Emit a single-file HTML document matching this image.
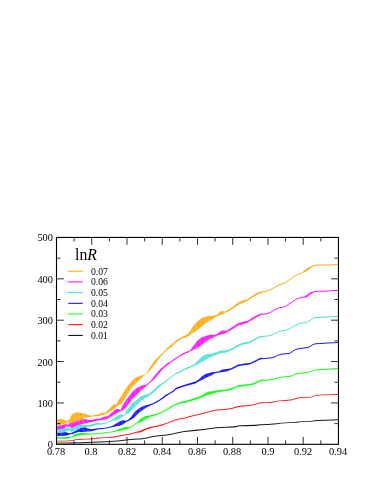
<!DOCTYPE html><html><head><meta charset="utf-8"><style>
html,body{margin:0;padding:0;background:#fff}
#c{position:relative;width:387px;height:501px;overflow:hidden;background:#fff;font-family:"Liberation Serif",serif;color:#000}
.t{position:absolute;will-change:transform;font-size:10.4px;line-height:10px;height:10px;white-space:nowrap}
.y{text-align:right;width:40px}
.x{text-align:center;width:40px}
</style></head><body><div id="c">
<svg width="387" height="501" viewBox="0 0 387 501" style="position:absolute;left:0;top:0">
<g fill-opacity="0.9">
<polygon fill="#000000" points="56.5,442.70 56.6,442.70 70.5,442.57 80.8,442.32 105.4,441.27 117.8,440.51 130.2,439.10 137.7,438.61 140.3,438.47 145.5,437.82 151.9,436.27 158.4,435.37 164.8,434.72 171.3,433.69 177.8,432.14 184.2,431.10 195.3,429.87 205.7,428.63 216.0,427.19 226.3,426.71 234.6,426.30 239.8,425.26 247.0,425.06 255.3,424.85 260.5,424.23 267.9,424.04 276.8,423.37 281.2,422.70 290.1,422.26 296.8,421.81 301.2,421.15 310.1,420.93 316.8,420.04 325.7,419.81 338.4,419.37 338.4,420.22 325.7,420.66 316.8,420.89 310.1,421.78 301.2,422.00 296.8,422.66 290.1,423.11 281.2,423.55 276.8,424.22 267.9,424.89 260.5,425.33 255.3,425.95 247.0,426.16 239.8,426.37 234.6,427.40 226.3,427.81 216.0,428.29 205.7,429.74 195.3,430.98 184.2,432.10 177.8,433.14 171.3,434.69 164.8,435.72 158.4,436.37 151.9,437.27 145.5,438.82 140.3,439.47 137.7,439.55 130.2,440.03 117.8,441.45 105.4,442.20 80.8,443.17 70.5,443.42 56.6,443.55 56.5,443.55"/>
<polygon fill="#ff0000" points="56.5,440.64 56.6,440.64 65.3,440.69 71.5,440.21 75.7,439.18 80.8,438.79 86.0,438.64 91.2,438.56 99.2,437.56 105.4,437.15 111.6,436.73 117.8,435.82 124.0,434.41 130.2,433.50 136.4,431.77 140.3,430.78 142.9,429.60 146.8,427.89 150.6,426.70 154.5,425.96 158.4,425.31 162.3,424.34 166.1,422.93 170.0,421.52 173.9,419.96 177.8,418.66 181.6,418.00 185.5,417.62 188.8,416.29 195.3,414.80 201.8,413.20 208.2,411.48 212.1,410.42 216.2,409.45 221.3,409.14 226.5,408.70 231.7,408.06 236.8,406.25 242.0,405.47 247.2,405.21 252.3,404.44 256.2,403.53 261.0,402.24 265.7,402.26 272.3,401.81 279.0,400.48 285.7,400.04 292.3,399.37 299.0,397.37 305.7,397.15 311.2,396.70 315.7,394.93 323.4,394.48 330.1,394.26 338.4,394.04 338.4,394.89 330.1,395.11 323.4,395.33 315.7,395.78 311.2,397.55 305.7,398.00 299.0,398.22 292.3,400.22 285.7,400.89 279.0,401.33 272.3,402.66 265.7,403.11 261.0,403.24 256.2,404.53 252.3,405.44 247.2,406.21 242.0,406.47 236.8,407.38 231.7,409.06 226.5,409.70 221.3,410.14 216.2,410.58 212.1,411.42 208.2,412.48 201.8,414.20 195.3,415.80 188.8,417.29 185.5,418.62 181.6,419.00 177.8,419.66 173.9,420.96 170.0,422.52 166.1,423.97 162.3,425.42 158.4,426.41 154.5,427.06 150.6,428.13 146.8,429.55 142.9,431.32 140.3,432.51 136.4,432.82 130.2,434.51 124.0,435.50 117.8,436.75 111.6,437.67 105.4,438.08 99.2,438.50 91.2,439.41 86.0,439.49 80.8,439.69 75.7,440.07 71.5,441.06 65.3,441.54 56.6,441.49 56.5,441.49"/>
<polygon fill="#00ff00" points="56.5,436.91 56.6,436.91 61.2,437.32 65.3,437.11 69.5,436.91 72.1,435.88 73.6,434.50 76.7,433.45 80.8,432.74 85.0,432.97 88.1,433.50 91.2,433.50 99.2,433.04 105.4,432.36 111.6,431.49 116.6,430.19 120.3,428.45 124.0,427.18 127.1,426.96 130.2,427.20 133.9,424.57 137.7,421.40 140.3,419.07 142.9,417.13 146.8,415.86 150.6,415.27 154.5,414.36 158.4,413.07 162.3,411.13 166.1,409.20 170.0,406.87 173.9,404.67 177.8,402.74 181.6,401.71 185.5,400.85 188.8,399.89 195.3,397.77 200.5,396.03 204.3,393.40 208.2,391.84 212.1,391.20 214.9,390.68 218.8,390.09 222.6,389.64 226.5,389.25 230.4,388.61 234.3,386.93 238.1,385.25 242.0,384.86 245.9,384.34 249.8,383.95 253.6,383.05 257.5,381.37 261.0,379.56 265.5,379.80 270.6,379.16 274.5,378.51 278.4,377.22 282.3,376.57 286.1,376.31 290.0,375.93 293.9,374.25 296.5,373.21 298.9,372.90 302.8,372.51 306.6,372.12 309.9,371.61 313.1,369.93 315.7,369.28 320.8,369.02 327.3,368.64 333.8,368.25 338.4,367.99 338.4,368.99 333.8,369.25 327.3,369.64 320.8,370.02 315.7,370.28 313.1,370.93 309.9,372.61 306.6,373.12 302.8,373.51 298.9,373.90 296.5,374.21 293.9,375.25 290.0,376.93 286.1,377.32 282.3,377.57 278.4,378.22 274.5,379.51 270.6,380.16 265.5,380.80 261.0,381.09 257.5,382.90 253.6,384.58 249.8,385.48 245.9,385.87 242.0,386.39 238.1,386.78 234.3,388.46 230.4,390.14 226.5,390.78 222.6,391.31 218.8,391.90 214.9,392.92 212.1,394.29 208.2,395.07 204.3,396.35 200.5,398.04 195.3,399.85 188.8,401.83 185.5,402.75 181.6,403.25 177.8,404.14 173.9,406.07 170.0,408.27 166.1,410.60 162.3,412.53 158.4,414.34 154.5,415.64 150.6,416.80 146.8,418.66 142.9,421.01 140.3,422.56 137.7,422.75 133.9,425.63 130.2,428.05 127.1,429.18 124.0,430.08 120.3,430.80 116.6,431.40 111.6,432.34 105.4,433.21 99.2,433.89 91.2,434.38 88.1,434.69 85.0,434.70 80.8,435.14 76.7,435.98 73.6,436.79 72.1,437.17 69.5,438.21 65.3,438.83 61.2,438.83 56.6,438.52 56.5,438.52"/>
<polygon fill="#0000ff" points="56.5,432.51 56.6,432.51 61.2,432.45 65.3,431.99 68.4,433.08 70.5,433.27 72.6,432.33 75.7,430.80 78.8,428.76 81.9,427.59 85.0,427.29 88.1,428.44 91.2,429.14 98.0,428.13 102.9,428.11 107.9,427.24 112.8,425.63 116.6,423.16 119.7,421.56 122.8,420.37 125.9,420.64 128.3,419.83 131.4,416.48 134.6,412.06 137.6,409.53 140.8,407.26 144.1,405.82 147.3,404.96 150.5,404.08 153.8,402.79 157.0,401.11 160.2,398.91 162.8,397.10 166.1,394.60 170.0,392.40 173.2,390.59 175.9,387.77 182.4,385.59 188.8,383.58 195.3,381.41 198.5,379.46 201.8,376.61 205.0,374.35 208.9,372.93 212.1,372.33 214.9,371.98 218.8,371.27 222.6,369.58 226.5,369.05 230.4,368.45 234.3,366.50 238.1,364.56 242.0,363.92 245.9,363.28 249.8,362.90 253.6,361.34 257.5,359.14 261.0,357.59 262.9,358.23 266.8,357.84 270.6,357.45 274.5,356.55 278.4,354.61 282.3,353.58 286.1,353.32 290.0,352.67 293.9,350.09 296.5,348.80 297.6,348.61 300.2,347.96 304.0,347.58 307.9,347.06 310.5,345.77 313.1,344.09 315.7,343.18 320.8,342.92 327.3,342.54 333.8,342.15 338.4,341.89 338.4,342.89 333.8,343.15 327.3,343.54 320.8,343.93 315.7,344.18 313.1,345.09 310.5,346.77 307.9,348.06 304.0,348.58 300.2,348.96 297.6,349.61 296.5,349.80 293.9,351.09 290.0,353.67 286.1,354.32 282.3,354.58 278.4,355.61 274.5,357.55 270.6,358.45 266.8,358.84 262.9,359.23 261.0,359.26 257.5,360.81 253.6,362.75 249.8,364.42 245.9,364.95 242.0,365.59 238.1,366.37 234.3,368.31 230.4,369.98 226.5,371.58 222.6,372.10 218.8,372.61 214.9,373.15 212.1,375.04 208.9,376.41 205.0,378.37 201.8,379.99 198.5,381.55 195.3,383.49 188.8,385.28 182.4,386.99 175.9,389.44 173.2,391.99 170.0,393.80 166.1,396.13 162.8,398.63 160.2,400.44 157.0,402.38 153.8,404.06 150.5,405.48 147.3,407.06 144.1,408.91 140.8,411.20 137.6,413.88 134.6,417.14 131.4,419.42 128.3,421.08 125.9,422.20 122.8,424.47 119.7,425.71 116.6,426.33 112.8,426.97 107.9,428.28 102.9,429.09 98.0,429.42 91.2,431.24 88.1,431.59 85.0,431.64 81.9,431.93 78.8,432.07 75.7,432.84 72.6,433.96 70.5,434.37 68.4,435.00 65.3,435.68 61.2,436.10 56.6,436.01 56.5,436.01"/>
<polygon fill="#40e0d0" points="56.5,429.17 56.6,429.17 61.2,429.17 64.3,428.35 66.4,427.31 68.4,427.10 71.5,428.17 74.6,426.62 77.7,425.30 80.8,424.51 85.0,424.94 88.1,425.00 91.2,424.62 96.7,422.83 100.4,423.30 104.2,422.68 107.9,421.93 111.6,420.00 114.1,417.97 117.2,415.76 120.3,414.41 122.8,414.78 124.6,414.50 126.5,410.34 127.9,408.76 131.1,404.07 134.4,401.58 137.6,399.17 140.8,396.42 144.1,395.07 147.3,394.24 149.9,393.31 153.1,390.18 156.3,387.03 159.6,384.58 162.8,382.77 166.9,379.52 170.8,376.75 175.9,373.05 179.8,371.18 183.7,369.12 187.5,367.32 191.4,365.65 194.7,364.05 197.9,360.53 201.1,357.22 204.3,355.08 208.2,353.93 212.1,353.41 216.2,352.16 221.3,350.51 225.2,350.59 230.4,349.10 234.3,346.77 238.1,344.64 242.0,343.00 245.9,342.09 249.8,341.46 253.6,339.26 257.5,337.20 261.0,335.64 262.9,335.88 266.8,335.49 270.6,334.97 274.5,333.29 278.4,331.35 282.3,330.32 286.1,329.80 290.0,328.12 293.9,325.54 296.5,324.12 297.6,323.80 300.2,322.77 302.8,322.51 306.6,322.12 309.2,320.44 311.8,318.64 314.4,317.34 317.0,316.96 323.4,316.70 331.2,316.31 338.4,316.05 338.4,317.05 331.2,317.31 323.4,317.70 317.0,317.96 314.4,318.34 311.8,319.64 309.2,321.44 306.6,323.12 302.8,323.51 300.2,323.77 297.6,324.80 296.5,325.12 293.9,326.54 290.0,329.12 286.1,330.80 282.3,331.32 278.4,332.35 274.5,334.29 270.6,335.97 266.8,336.49 262.9,336.88 261.0,337.31 257.5,338.72 253.6,340.93 249.8,342.99 245.9,343.90 242.0,344.82 238.1,346.45 234.3,348.58 230.4,350.77 225.2,352.82 221.3,353.32 216.2,354.75 212.1,356.61 208.2,358.28 204.3,360.60 201.1,362.45 197.9,364.05 194.7,365.86 191.4,367.04 187.5,368.79 183.7,370.55 179.8,372.43 175.9,374.24 170.8,377.64 166.9,380.93 162.8,384.14 159.6,386.64 156.3,389.73 153.1,392.66 149.9,395.46 147.3,396.95 144.1,398.74 140.8,401.24 137.6,403.83 134.4,407.43 131.1,410.92 127.9,413.64 126.5,413.84 124.6,415.45 122.8,416.31 120.3,418.40 117.2,419.91 114.1,420.42 111.6,421.24 107.9,422.78 104.2,423.91 100.4,424.67 96.7,424.79 91.2,426.54 88.1,427.11 85.0,427.29 80.8,427.91 77.7,429.06 74.6,430.64 71.5,432.10 68.4,430.93 66.4,431.45 64.3,432.37 61.2,432.82 56.6,432.91 56.5,432.91"/>
<polygon fill="#ff00ff" points="56.5,425.67 56.6,425.67 61.2,425.47 64.3,424.43 66.4,423.63 69.5,423.28 72.6,422.76 75.7,421.45 79.8,420.09 82.4,419.61 85.0,419.10 88.1,420.09 91.2,420.12 96.7,418.69 100.4,418.62 104.2,416.58 106.6,416.58 109.1,414.97 111.6,412.72 114.1,410.49 116.6,409.07 118.4,408.91 120.3,410.32 122.8,405.16 126.0,399.98 129.2,396.12 132.4,391.74 135.7,388.73 138.9,386.81 142.1,385.54 145.4,384.91 147.9,383.40 151.2,380.20 154.4,376.05 157.6,372.00 160.9,368.45 164.1,365.94 166.9,363.62 170.8,361.57 174.6,358.54 178.5,355.96 182.4,353.61 186.3,351.78 190.1,350.17 193.4,345.92 196.6,341.41 199.8,338.57 203.1,336.89 206.9,335.59 212.1,334.62 214.2,334.89 216.8,334.15 220.0,331.45 223.3,330.32 226.5,330.94 230.4,328.35 234.3,325.69 238.1,323.29 242.0,321.89 245.2,321.29 248.5,320.45 252.3,317.80 256.2,315.61 261.0,313.42 262.9,313.66 266.8,313.15 270.6,311.85 274.5,309.53 278.4,307.59 282.3,306.69 284.8,306.30 288.7,303.72 292.6,301.13 296.5,298.55 300.3,297.26 302.9,296.87 303.8,296.71 305.3,296.00 307.9,294.09 310.5,292.33 313.1,291.39 315.0,290.90 317.0,290.77 320.8,290.64 327.3,290.38 333.8,290.12 338.4,289.99 338.4,290.99 333.8,291.12 327.3,291.38 320.8,291.64 317.0,291.77 315.0,292.03 313.1,292.69 310.5,294.34 307.9,296.45 305.3,297.65 303.8,297.71 302.9,297.87 300.3,298.26 296.5,299.55 292.6,302.13 288.7,304.72 284.8,307.30 282.3,307.69 278.4,308.59 274.5,310.53 270.6,312.86 266.8,314.15 262.9,314.66 261.0,315.09 256.2,317.42 252.3,319.75 248.5,321.97 245.2,323.39 242.0,324.41 238.1,325.53 234.3,327.93 230.4,330.59 226.5,332.47 223.3,333.93 220.0,334.68 216.8,335.70 214.2,337.13 212.1,338.17 206.9,340.70 203.1,343.66 199.8,346.15 196.6,348.24 193.4,349.79 190.1,351.32 186.3,353.27 182.4,355.04 178.5,357.32 174.6,359.99 170.8,362.64 166.9,365.56 164.1,367.65 160.9,371.20 157.6,375.24 154.4,379.10 151.2,381.87 147.9,384.70 145.4,386.86 142.1,389.48 138.9,392.47 135.7,395.44 132.4,398.94 129.2,403.59 126.0,407.53 122.8,410.15 120.3,411.17 118.4,412.07 116.6,413.52 114.1,414.69 111.6,416.18 109.1,417.78 106.6,419.26 104.2,419.52 100.4,420.20 96.7,420.81 91.2,421.98 88.1,422.74 85.0,423.23 82.4,423.95 79.8,424.68 75.7,426.02 72.6,427.66 69.5,427.50 66.4,426.36 64.3,428.35 61.2,429.17 56.6,429.17 56.5,429.17"/>
<polygon fill="#ffa500" points="56.5,419.47 56.6,419.47 61.2,418.95 65.3,420.18 67.4,421.21 69.5,419.05 71.5,415.34 73.6,413.28 76.7,412.43 80.8,412.68 85.0,413.77 88.1,415.09 91.2,415.75 98.0,414.20 101.7,413.18 105.4,412.50 107.9,410.23 110.4,407.72 112.8,405.07 114.7,404.19 116.6,404.61 118.2,400.59 121.5,396.12 124.7,390.35 127.9,385.77 131.1,381.68 134.4,378.56 137.6,376.75 140.8,375.63 144.1,374.63 147.3,371.99 150.5,366.51 153.8,361.44 157.0,358.25 160.2,355.16 163.4,352.32 166.9,348.26 170.8,344.99 174.6,341.72 178.5,338.83 182.4,336.66 186.3,334.84 188.8,333.01 191.4,328.73 194.7,324.21 197.9,320.98 201.1,318.40 204.3,317.11 208.2,316.20 212.1,315.81 213.6,315.60 216.2,315.27 218.8,312.66 222.0,310.87 224.6,311.83 227.8,309.91 231.7,307.65 235.5,304.40 239.4,301.82 243.3,300.24 246.5,299.81 249.8,297.53 253.6,294.94 257.5,292.75 261.0,291.45 262.9,291.18 266.8,290.41 270.6,289.12 274.5,286.92 278.4,284.72 282.3,283.04 284.8,282.40 288.7,279.81 292.6,276.97 296.5,274.39 300.3,272.71 302.9,271.93 303.8,270.87 305.3,269.70 307.9,267.71 310.5,266.39 313.1,265.14 315.0,264.67 317.0,264.54 320.8,264.54 327.3,264.41 333.8,264.15 338.4,263.89 338.4,264.89 333.8,265.15 327.3,265.41 320.8,265.54 317.0,265.54 315.0,265.80 313.1,266.62 310.5,268.22 307.9,270.25 305.3,271.88 303.8,272.00 302.9,272.93 300.3,273.71 296.5,275.39 292.6,277.97 288.7,280.81 284.8,283.40 282.3,284.04 278.4,285.72 274.5,287.92 270.6,290.12 266.8,291.41 262.9,292.18 261.0,293.12 257.5,294.41 253.6,296.75 249.8,299.34 246.5,301.34 243.3,302.76 239.4,304.34 235.5,306.64 231.7,309.46 227.8,311.72 224.6,312.98 222.0,314.49 218.8,315.61 216.2,316.78 213.6,318.32 212.1,319.76 208.2,321.42 204.3,324.24 201.1,327.05 197.9,329.79 194.7,332.11 191.4,333.79 188.8,335.95 186.3,337.28 182.4,338.19 178.5,340.64 174.6,343.85 170.8,347.56 166.9,350.08 163.4,353.65 160.2,357.04 157.0,361.22 153.8,365.54 150.5,369.90 147.3,372.84 144.1,375.48 140.8,378.84 137.6,381.72 134.4,384.75 131.1,388.33 127.9,393.59 124.7,398.79 121.5,403.79 118.2,405.57 116.6,406.53 114.7,408.46 112.8,410.10 110.4,411.30 107.9,412.76 105.4,414.28 101.7,415.27 98.0,416.07 91.2,416.80 88.1,417.22 85.0,417.83 80.8,419.92 76.7,421.04 73.6,422.45 71.5,423.18 69.5,422.86 67.4,422.06 65.3,423.32 61.2,424.83 56.6,425.27 56.5,425.27"/>
<defs><pattern id="h" width="1.3" height="8" patternUnits="userSpaceOnUse"><rect x="0" y="0" width="0.42" height="8" fill="#fff" fill-opacity="0.24"/></pattern></defs>
<polygon fill="url(#h)" fill-opacity="1" points="73.6,435.00 76.7,433.95 80.8,433.24 80.8,434.64 76.7,435.48 73.6,436.29"/>
<polygon fill="url(#h)" fill-opacity="1" points="120.3,428.95 124.0,427.68 127.1,427.46 127.1,428.68 124.0,429.58 120.3,430.30"/>
<polygon fill="url(#h)" fill-opacity="1" points="140.3,419.57 142.9,417.63 146.8,416.36 146.8,418.16 142.9,420.51 140.3,422.06"/>
<polygon fill="url(#h)" fill-opacity="1" points="195.3,398.27 200.5,396.53 204.3,393.90 208.2,392.34 212.1,391.70 214.9,391.18 214.9,392.42 212.1,393.79 208.2,394.57 204.3,395.85 200.5,397.54 195.3,399.35"/>
<polygon fill="url(#h)" fill-opacity="1" points="56.5,433.01 56.6,433.01 61.2,432.95 65.3,432.49 65.3,435.18 61.2,435.60 56.6,435.51 56.5,435.51"/>
<polygon fill="url(#h)" fill-opacity="1" points="75.7,431.30 78.8,429.26 81.9,428.09 85.0,427.79 88.1,428.94 91.2,429.64 91.2,430.74 88.1,431.09 85.0,431.14 81.9,431.43 78.8,431.57 75.7,432.34"/>
<polygon fill="url(#h)" fill-opacity="1" points="116.6,423.66 119.7,422.06 122.8,420.87 122.8,423.97 119.7,425.21 116.6,425.83"/>
<polygon fill="url(#h)" fill-opacity="1" points="131.4,416.98 134.6,412.56 137.6,410.03 140.8,407.76 144.1,406.32 147.3,405.46 147.3,406.56 144.1,408.41 140.8,410.70 137.6,413.38 134.6,416.64 131.4,418.92"/>
<polygon fill="url(#h)" fill-opacity="1" points="195.3,381.91 198.5,379.96 201.8,377.11 205.0,374.85 208.9,373.43 212.1,372.83 212.1,374.54 208.9,375.91 205.0,377.87 201.8,379.49 198.5,381.05 195.3,382.99"/>
<polygon fill="url(#h)" fill-opacity="1" points="222.6,370.08 226.5,369.55 226.5,371.08 222.6,371.60"/>
<polygon fill="url(#h)" fill-opacity="1" points="56.5,429.67 56.6,429.67 61.2,429.67 64.3,428.85 66.4,427.81 68.4,427.60 71.5,428.67 74.6,427.12 77.7,425.80 80.8,425.01 85.0,425.44 88.1,425.50 88.1,426.61 85.0,426.79 80.8,427.41 77.7,428.56 74.6,430.14 71.5,431.60 68.4,430.43 66.4,430.95 64.3,431.87 61.2,432.32 56.6,432.41 56.5,432.41"/>
<polygon fill="url(#h)" fill-opacity="1" points="114.1,418.47 117.2,416.26 120.3,414.91 120.3,417.90 117.2,419.41 114.1,419.92"/>
<polygon fill="url(#h)" fill-opacity="1" points="126.5,410.84 127.9,409.26 131.1,404.57 134.4,402.08 137.6,399.67 140.8,396.92 144.1,395.57 147.3,394.74 149.9,393.81 153.1,390.68 156.3,387.53 159.6,385.08 159.6,386.14 156.3,389.23 153.1,392.16 149.9,394.96 147.3,396.45 144.1,398.24 140.8,400.74 137.6,403.33 134.4,406.93 131.1,410.42 127.9,413.14 126.5,413.34"/>
<polygon fill="url(#h)" fill-opacity="1" points="197.9,361.03 201.1,357.72 204.3,355.58 208.2,354.43 212.1,353.91 216.2,352.66 221.3,351.01 225.2,351.09 225.2,352.32 221.3,352.82 216.2,354.25 212.1,356.11 208.2,357.78 204.3,360.10 201.1,361.95 197.9,363.55"/>
<polygon fill="url(#h)" fill-opacity="1" points="56.5,426.17 56.6,426.17 61.2,425.97 64.3,424.93 66.4,424.13 69.5,423.78 72.6,423.26 75.7,421.95 79.8,420.59 82.4,420.11 85.0,419.60 88.1,420.59 88.1,422.24 85.0,422.73 82.4,423.45 79.8,424.18 75.7,425.52 72.6,427.16 69.5,427.00 66.4,425.86 64.3,427.85 61.2,428.67 56.6,428.67 56.5,428.67"/>
<polygon fill="url(#h)" fill-opacity="1" points="104.2,417.08 106.6,417.08 109.1,415.47 111.6,413.22 114.1,410.99 116.6,409.57 118.4,409.41 118.4,411.57 116.6,413.02 114.1,414.19 111.6,415.68 109.1,417.28 106.6,418.76 104.2,419.02"/>
<polygon fill="url(#h)" fill-opacity="1" points="122.8,405.66 126.0,400.48 129.2,396.62 132.4,392.24 135.7,389.23 138.9,387.31 142.1,386.04 142.1,388.98 138.9,391.97 135.7,394.94 132.4,398.44 129.2,403.09 126.0,407.03 122.8,409.65"/>
<polygon fill="url(#h)" fill-opacity="1" points="154.4,376.55 157.6,372.50 160.9,368.95 160.9,370.70 157.6,374.74 154.4,378.60"/>
<polygon fill="url(#h)" fill-opacity="1" points="193.4,346.42 196.6,341.91 199.8,339.07 203.1,337.39 206.9,336.09 212.1,335.12 214.2,335.39 214.2,336.63 212.1,337.67 206.9,340.20 203.1,343.16 199.8,345.65 196.6,347.74 193.4,349.29"/>
<polygon fill="url(#h)" fill-opacity="1" points="220.0,331.95 223.3,330.82 223.3,333.43 220.0,334.18"/>
<polygon fill="url(#h)" fill-opacity="1" points="230.4,328.85 234.3,326.19 238.1,323.79 242.0,322.39 245.2,321.79 245.2,322.89 242.0,323.91 238.1,325.03 234.3,327.43 230.4,330.09"/>
<polygon fill="url(#h)" fill-opacity="1" points="307.9,294.59 310.5,292.83 310.5,293.84 307.9,295.95"/>
<polygon fill="url(#h)" fill-opacity="1" points="56.5,419.97 56.6,419.97 61.2,419.45 65.3,420.68 65.3,422.82 61.2,424.33 56.6,424.77 56.5,424.77"/>
<polygon fill="url(#h)" fill-opacity="1" points="69.5,419.55 71.5,415.84 73.6,413.78 76.7,412.93 80.8,413.18 85.0,414.27 88.1,415.59 88.1,416.72 85.0,417.33 80.8,419.42 76.7,420.54 73.6,421.95 71.5,422.68 69.5,422.36"/>
<polygon fill="url(#h)" fill-opacity="1" points="107.9,410.73 110.4,408.22 112.8,405.57 114.7,404.69 114.7,407.96 112.8,409.60 110.4,410.80 107.9,412.26"/>
<polygon fill="url(#h)" fill-opacity="1" points="118.2,401.09 121.5,396.62 124.7,390.85 127.9,386.27 131.1,382.18 134.4,379.06 137.6,377.25 140.8,376.13 140.8,378.34 137.6,381.22 134.4,384.25 131.1,387.83 127.9,393.09 124.7,398.29 121.5,403.29 118.2,405.07"/>
<polygon fill="url(#h)" fill-opacity="1" points="150.5,367.01 153.8,361.94 157.0,358.75 157.0,360.72 153.8,365.04 150.5,369.40"/>
<polygon fill="url(#h)" fill-opacity="1" points="170.8,345.49 174.6,342.22 174.6,343.35 170.8,347.06"/>
<polygon fill="url(#h)" fill-opacity="1" points="186.3,335.34 188.8,333.51 191.4,329.23 194.7,324.71 197.9,321.48 201.1,318.90 204.3,317.61 208.2,316.70 212.1,316.31 213.6,316.10 213.6,317.82 212.1,319.26 208.2,320.92 204.3,323.74 201.1,326.55 197.9,329.29 194.7,331.61 191.4,333.29 188.8,335.45 186.3,336.78"/>
<polygon fill="url(#h)" fill-opacity="1" points="218.8,313.16 222.0,311.37 222.0,313.99 218.8,315.11"/>
<polygon fill="url(#h)" fill-opacity="1" points="235.5,304.90 239.4,302.32 243.3,300.74 243.3,302.26 239.4,303.84 235.5,306.14"/>
<polygon fill="url(#h)" fill-opacity="1" points="305.3,270.20 307.9,268.21 307.9,269.75 305.3,271.38"/>
<ellipse cx="67.6" cy="424.0" rx="1.5" ry="0.7" fill="#fff"/>
<ellipse cx="68.8" cy="427.6" rx="1.8" ry="0.75" fill="#fff"/>
<ellipse cx="69.2" cy="431.6" rx="1.9" ry="0.9" fill="#fff"/>
<ellipse cx="70.0" cy="435.7" rx="2.5" ry="0.9" fill="#fff"/>
</g>
<g stroke="#000" stroke-width="1.1" fill="none" stroke-linecap="butt">
<rect x="56.5" y="237.45" width="281.95" height="206.85"/>
<path stroke="#1a1a1a" stroke-width="0.9" d="M74.12 444.3 v-4.0 M74.12 237.45 v4.0 M91.74 444.3 v-7.4 M91.74 237.45 v7.4 M109.37 444.3 v-4.0 M109.37 237.45 v4.0 M126.99 444.3 v-7.4 M126.99 237.45 v7.4 M144.61 444.3 v-4.0 M144.61 237.45 v4.0 M162.23 444.3 v-7.4 M162.23 237.45 v7.4 M179.85 444.3 v-4.0 M179.85 237.45 v4.0 M197.47 444.3 v-7.4 M197.47 237.45 v7.4 M215.10 444.3 v-4.0 M215.10 237.45 v4.0 M232.72 444.3 v-7.4 M232.72 237.45 v7.4 M250.34 444.3 v-4.0 M250.34 237.45 v4.0 M267.96 444.3 v-7.4 M267.96 237.45 v7.4 M285.58 444.3 v-4.0 M285.58 237.45 v4.0 M303.21 444.3 v-7.4 M303.21 237.45 v7.4 M320.83 444.3 v-4.0 M320.83 237.45 v4.0 M56.5 423.62 h4.0 M338.45 423.62 h-4.0 M56.5 402.93 h7.4 M338.45 402.93 h-7.4 M56.5 382.25 h4.0 M338.45 382.25 h-4.0 M56.5 361.56 h7.4 M338.45 361.56 h-7.4 M56.5 340.88 h4.0 M338.45 340.88 h-4.0 M56.5 320.19 h7.4 M338.45 320.19 h-7.4 M56.5 299.50 h4.0 M338.45 299.50 h-4.0 M56.5 278.82 h7.4 M338.45 278.82 h-7.4 M56.5 258.13 h4.0 M338.45 258.13 h-4.0"/>
</g>
<line x1="68.2" x2="82.8" y1="271.20" y2="271.20" stroke="#ffa500" stroke-width="1.0"/>
<line x1="68.2" x2="82.8" y1="281.90" y2="281.90" stroke="#ff00ff" stroke-width="1.0"/>
<line x1="68.2" x2="82.8" y1="292.60" y2="292.60" stroke="#40e0d0" stroke-width="1.0"/>
<line x1="68.2" x2="82.8" y1="303.30" y2="303.30" stroke="#0000ff" stroke-width="1.0"/>
<line x1="68.2" x2="82.8" y1="314.00" y2="314.00" stroke="#00ff00" stroke-width="1.0"/>
<line x1="68.2" x2="82.8" y1="324.70" y2="324.70" stroke="#ff0000" stroke-width="1.0"/>
<line x1="68.2" x2="82.8" y1="335.40" y2="335.40" stroke="#000000" stroke-width="1.0"/>
</svg>
<div class="t y" style="left:12.70px;top:440.30px">0</div>
<div class="t y" style="left:12.70px;top:398.93px">100</div>
<div class="t y" style="left:12.70px;top:357.56px">200</div>
<div class="t y" style="left:12.70px;top:316.19px">300</div>
<div class="t y" style="left:12.70px;top:274.82px">400</div>
<div class="t y" style="left:12.70px;top:233.45px">500</div>
<div class="t x" style="left:36.10px;top:446.60px">0.78</div>
<div class="t x" style="left:71.34px;top:446.60px">0.8</div>
<div class="t x" style="left:106.59px;top:446.60px">0.82</div>
<div class="t x" style="left:141.83px;top:446.60px">0.84</div>
<div class="t x" style="left:177.07px;top:446.60px">0.86</div>
<div class="t x" style="left:212.32px;top:446.60px">0.88</div>
<div class="t x" style="left:247.56px;top:446.60px">0.9</div>
<div class="t x" style="left:282.81px;top:446.60px">0.92</div>
<div class="t x" style="left:318.05px;top:446.60px">0.94</div>
<div class="t" style="left:90.8px;font-size:9.7px;top:266.60px">0.07</div>
<div class="t" style="left:90.8px;font-size:9.7px;top:277.30px">0.06</div>
<div class="t" style="left:90.8px;font-size:9.7px;top:288.00px">0.05</div>
<div class="t" style="left:90.8px;font-size:9.7px;top:298.70px">0.04</div>
<div class="t" style="left:90.8px;font-size:9.7px;top:309.40px">0.03</div>
<div class="t" style="left:90.8px;font-size:9.7px;top:320.10px">0.02</div>
<div class="t" style="left:90.8px;font-size:9.7px;top:330.80px">0.01</div>
<div style="position:absolute;left:75.1px;top:244.8px;will-change:transform;font-size:15.8px;line-height:20px;height:20px;white-space:nowrap">ln<i>R</i></div>
</div></body></html>
